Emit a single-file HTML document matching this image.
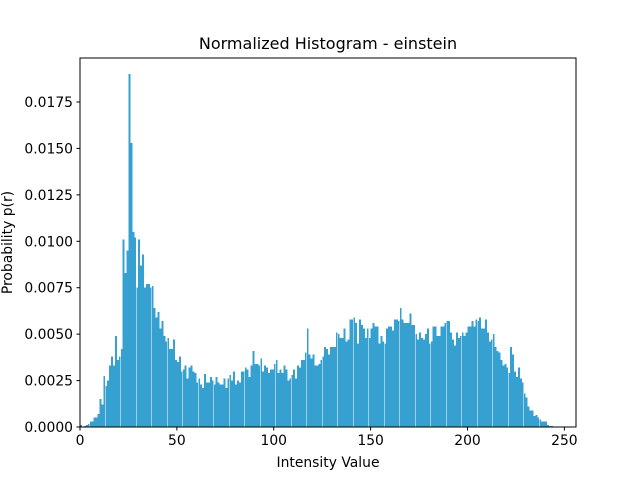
<!DOCTYPE html>
<html><head><meta charset="utf-8"><style>
body{margin:0;background:#fff;}
svg{display:block;font-family:"DejaVu Sans","Liberation Sans",sans-serif;}
</style></head><body>
<svg id="chart" width="640" height="480" viewBox="0 0 640 480">
<rect width="640" height="480" fill="#fff"/>
<text x="328" y="49" text-anchor="middle" font-size="16" fill="#000">Normalized Histogram - einstein</text>
<g id="bars" shape-rendering="crispEdges"></g>
<g id="xticks"></g>
<g id="yticks"></g>
<rect x="80" y="58" width="496" height="369" fill="none" stroke="#000" stroke-width="1"/>
<text x="328" y="467" text-anchor="middle" font-size="13.9">Intensity Value</text>
<text transform="translate(12,242.5) rotate(-90)" text-anchor="middle" font-size="13.9">Probability p(r)</text>
</svg>
<script>
const probs = [
0.0001,0.00003,0.00005,0.0001,0.00015,0.0003,0.0003,0.0005,0.0005,0.0007,
0.0015,0.0012,0.00275,0.0022,0.0025,0.0033,0.0038,0.0033,0.0049,0.0036,
0.0038,0.0042,0.0101,0.0083,0.0095,0.0190,0.0153,0.0105,0.0102,0.0075,
0.0101,0.0087,0.0093,0.0075,0.0077,0.0077,0.0075,0.0076,0.0064,0.0059,
0.0062,0.0053,0.0057,0.0049,0.0046,0.0048,0.0042,0.0042,0.0047,0.0036,
0.0035,0.0038,0.0030,0.0031,0.0033,0.0026,0.0032,0.0033,0.0030,0.0029,
0.0024,0.0026,0.0023,0.0021,0.00285,0.0024,0.0024,0.0027,0.0025,0.0023,
0.0027,0.0024,0.0023,0.0023,0.0026,0.0021,0.0026,0.0028,0.0025,0.0030,
0.0023,0.0025,0.0024,0.0030,0.0030,0.0032,0.0031,0.0027,0.0033,0.0041,
0.0034,0.0034,0.0033,0.0037,0.0030,0.0033,0.0032,0.0029,0.0031,0.0031,
0.0034,0.0036,0.0029,0.0031,0.0029,0.0033,0.0031,0.0025,0.0026,0.0028,
0.0031,0.0026,0.0033,0.0032,0.0036,0.0036,0.0040,0.0053,0.0039,0.0037,
0.0039,0.0033,0.0033,0.0034,0.0036,0.0038,0.0043,0.0042,0.0039,0.0043,
0.0043,0.0043,0.0051,0.0050,0.0048,0.0048,0.0053,0.0046,0.0047,0.0058,
0.0058,0.0059,0.0056,0.0045,0.0058,0.0055,0.0053,0.0048,0.0053,0.0048,
0.0053,0.0056,0.0054,0.0054,0.0045,0.0049,0.0046,0.0045,0.0053,0.0054,
0.0054,0.0052,0.0058,0.0058,0.0057,0.0064,0.0058,0.0056,0.0056,0.0056,
0.0061,0.0055,0.0055,0.0050,0.0047,0.0051,0.0048,0.0047,0.0050,0.0053,
0.0045,0.0046,0.0054,0.0054,0.0049,0.0049,0.0054,0.0054,0.0056,0.0057,
0.0057,0.0051,0.0047,0.0044,0.0051,0.0048,0.0049,0.0051,0.0049,0.0051,
0.0054,0.0054,0.0057,0.0054,0.0058,0.0057,0.0059,0.0053,0.0053,0.0058,
0.0051,0.0046,0.0047,0.0050,0.0043,0.0041,0.0040,0.0036,0.0033,0.0034,
0.0032,0.0029,0.0043,0.0039,0.0030,0.0027,0.0032,0.0026,0.0024,0.0018,
0.0016,0.0011,0.0009,0.0009,0.0006,0.00065,0.0005,0.0004,0.0003,0.0003,
0.0003,0.0001,0.00005,0.00005,0,0,0,0,0,0,0,0,0,0,0,0
];
const xTickValues = [0,50,100,150,200,250];
const yTickValues = [0,0.0025,0.005,0.0075,0.01,0.0125,0.015,0.0175];
const yTickLabels = ["0.0000","0.0025","0.0050","0.0075","0.0100","0.0125","0.0150","0.0175"];

const L=80,R=576,T=58,B=427;
const xMin=0,xMax=256,yMin=0,yMax=0.019870;
function xs(v){return L+(v-xMin)/(xMax-xMin)*(R-L);}
function ys(v){return B-(v-yMin)/(yMax-yMin)*(B-T);}
const NS="http://www.w3.org/2000/svg";
const bars=document.getElementById('bars');
probs.forEach((p,i)=>{
  if(p<=0) return;
  const r=document.createElementNS(NS,'rect');
  const x0=xs(i+0.05),x1=xs(i+1.0);
  r.setAttribute('x',x0);r.setAttribute('width',x1-x0);
  r.setAttribute('y',ys(p));r.setAttribute('height',ys(0)-ys(p));
  r.setAttribute('fill','#36a1d1');
  
  
  bars.appendChild(r);
});
const xg=document.getElementById('xticks');
xTickValues.forEach(v=>{
  const l=document.createElementNS(NS,'line');
  l.setAttribute('x1',xs(v));l.setAttribute('x2',xs(v));l.setAttribute('y1',B);l.setAttribute('y2',B+3.5);
  l.setAttribute('stroke','#000');
  
  
  xg.appendChild(l);
  const t=document.createElementNS(NS,'text');
  t.setAttribute('x',xs(v));t.setAttribute('y',B+18);t.setAttribute('text-anchor','middle');t.setAttribute('font-size','13.9');
  t.textContent=String(v);
  
  
  xg.appendChild(t);
});
const yg=document.getElementById('yticks');
yTickValues.forEach((v,k)=>{
  const l=document.createElementNS(NS,'line');
  l.setAttribute('x1',L-3.5);l.setAttribute('x2',L);l.setAttribute('y1',ys(v));l.setAttribute('y2',ys(v));
  l.setAttribute('stroke','#000');
  
  
  yg.appendChild(l);
  const t=document.createElementNS(NS,'text');
  t.setAttribute('x',L-7);t.setAttribute('y',ys(v)+5);t.setAttribute('text-anchor','end');t.setAttribute('font-size','13.9');
  t.textContent=yTickLabels[k];
  
  
  yg.appendChild(t);
});
</script>
</body></html>
